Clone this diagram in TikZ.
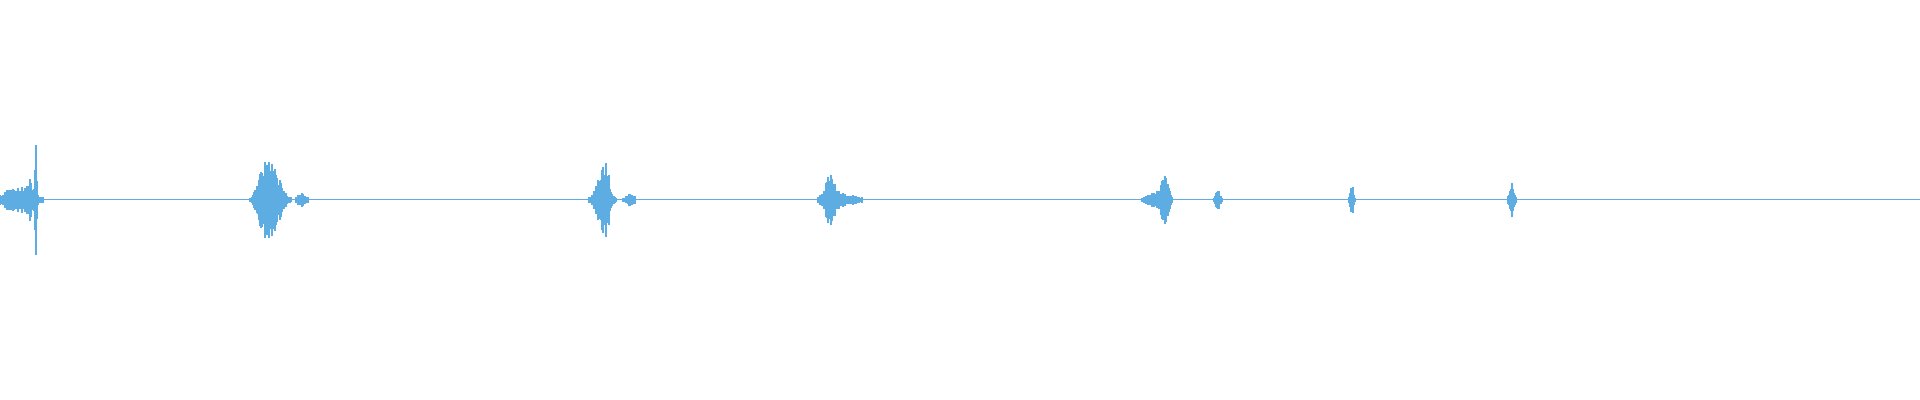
\documentclass[tikz,border=0pt]{standalone}
\usepackage{tikz}
\definecolor{wavecol}{RGB}{93,173,226}
\newcommand{\burst}[3]{#2*exp(-(min(abs(\x-#1)/#3,5))^2)}
\begin{document}
\begin{tikzpicture}[x=0.5pt,y=0.5pt]
    \tikzset{wave/.style= {draw=wavecol, line width=0.65pt} }
    \useasboundingbox (0,-200) rectangle (1920,200);
    \pgfmathsetseed{7}
    \draw[wave, line width=0.5pt] (0,0) -- (1920,0);
    \foreach \x in {0,...,1919} {
      \pgfmathsetmacro\amp{1.5+\burst{18}{14}{16}+\burst{36}{52}{1.2}+\burst{30}{12}{3}
        +\burst{272}{38}{10}+\burst{262}{18}{7}+\burst{302}{6}{5}
        +\burst{605}{32}{6}+\burst{600}{12}{8}+\burst{630}{6}{5}
        +\burst{830}{22}{7}+\burst{845}{5}{15}
        +\burst{1165}{20}{5}+\burst{1155}{7}{10}+\burst{1218}{9}{3}
        +\burst{1352}{17}{2}+\burst{1512}{16}{3}}
      \pgfmathsetmacro\h{\amp*(0.5+0.5*rnd)}
      \ifdim\h pt>2.2pt \draw[wave] (\x,-\h) -- (\x,\h); \fi
    }
\end{tikzpicture}
\end{document}
